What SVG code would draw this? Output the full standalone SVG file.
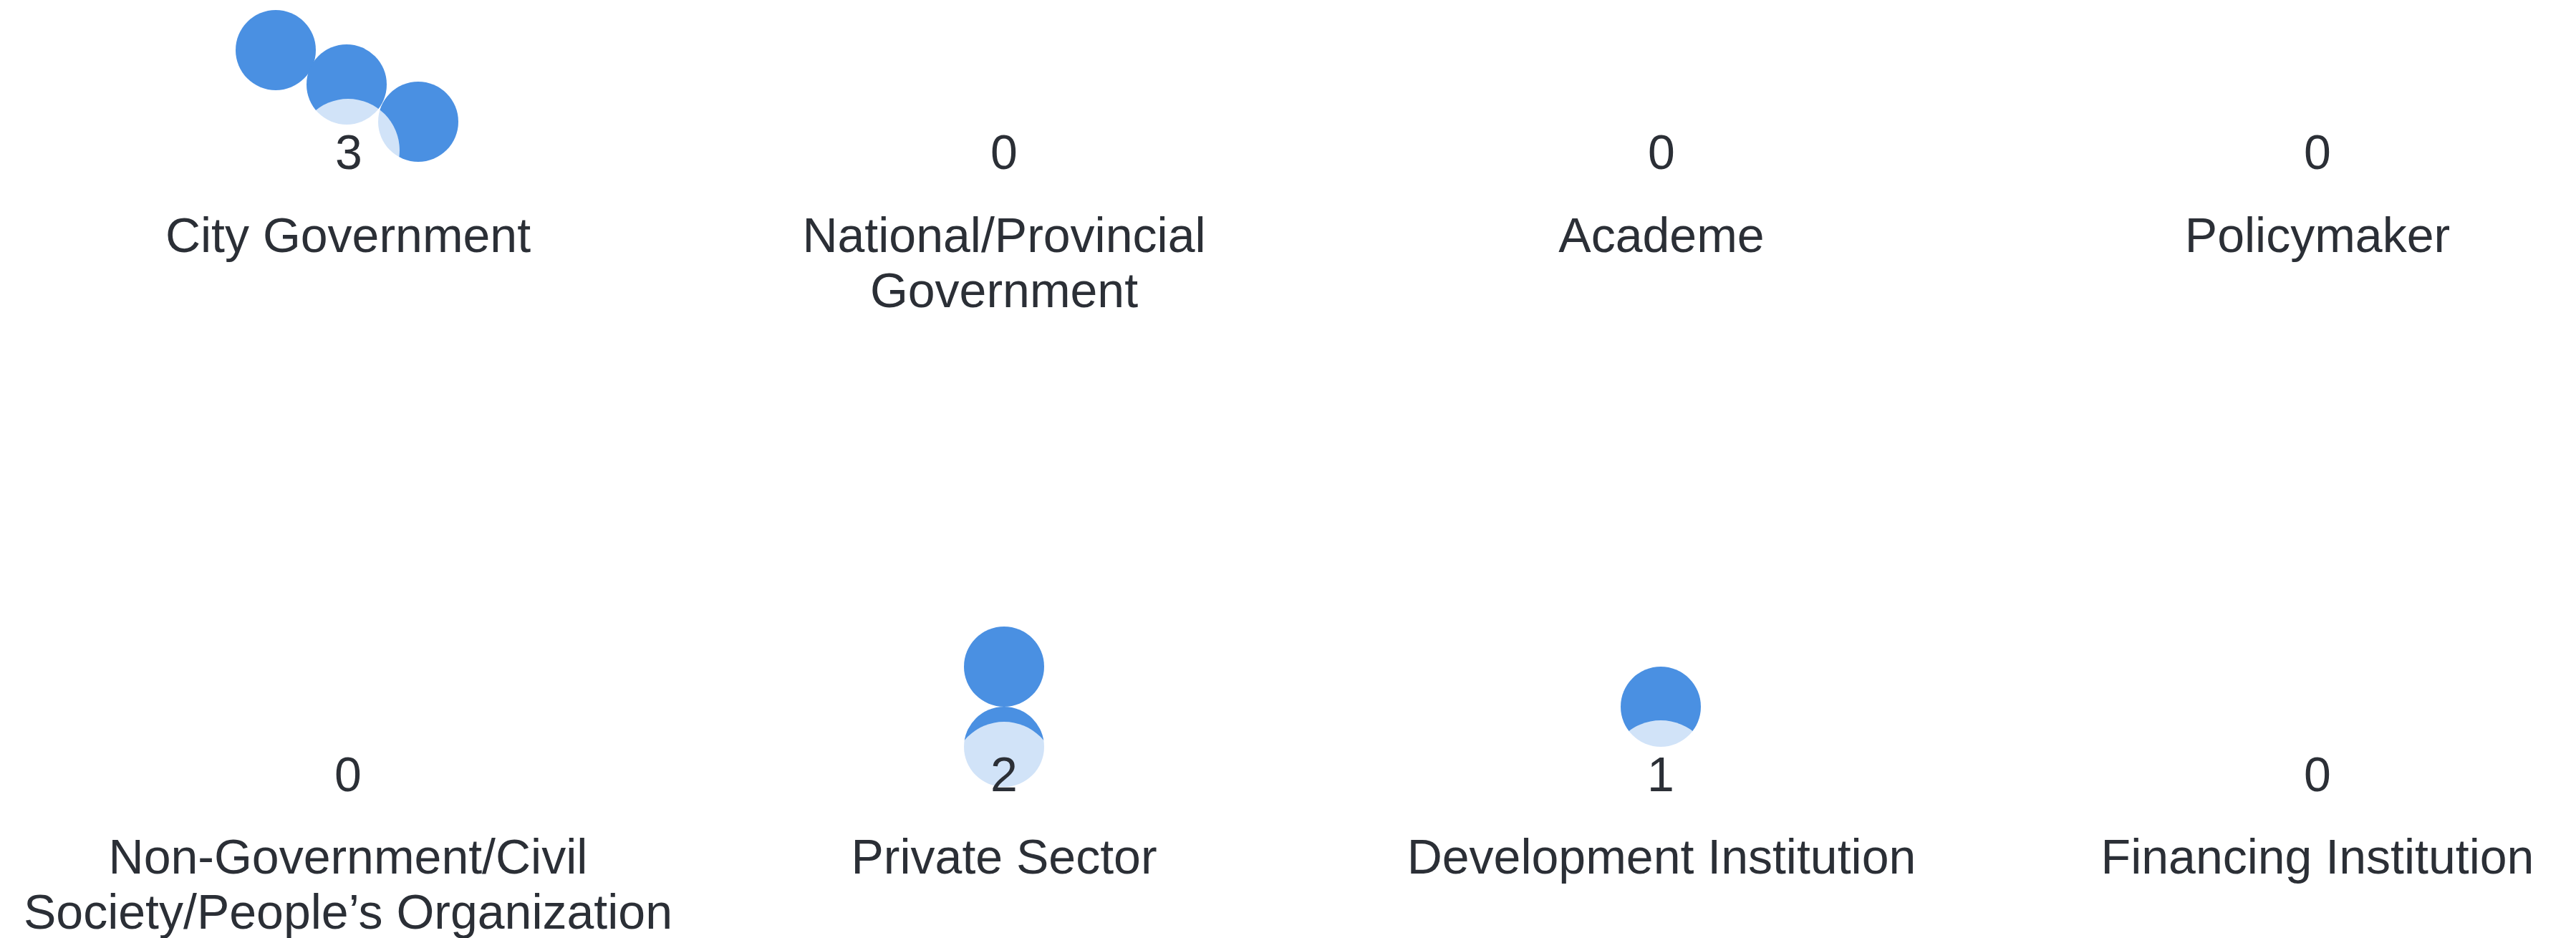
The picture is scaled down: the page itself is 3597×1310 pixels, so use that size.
<svg xmlns="http://www.w3.org/2000/svg" width="3597" height="1310" viewBox="0 0 3597 1310">
<style>
.bg{fill:#ffffff}
.dot{fill:#4a90e2}
.halo{fill:#ffffff;fill-opacity:0.75}
.num{font-family:"Liberation Sans",Arial,sans-serif;font-size:68px;fill:#2b2f36;text-anchor:middle}
.lbl{font-family:"Liberation Sans",Arial,sans-serif;font-size:68px;fill:#2b2f36;text-anchor:middle}
</style>
<rect class="bg" x="0" y="0" width="3597" height="1310"/>
<g id="connectors"></g>
<g id="node-city-government">
<circle class="dot" cx="385" cy="70" r="56"/>
<circle class="dot" cx="484" cy="118" r="56"/>
<circle class="dot" cx="584" cy="170" r="56"/>
<circle class="halo" cx="486" cy="210" r="72"/>
<text class="num" x="487" y="236">3</text>
<text class="lbl" x="486" y="352">City Government</text>
</g>
<g id="node-national-provincial-government">
<text class="num" x="1402" y="236">0</text>
<text class="lbl" x="1402" y="352">National/Provincial</text>
<text class="lbl" x="1402" y="429">Government</text>
</g>
<g id="node-academe">
<text class="num" x="2320" y="236">0</text>
<text class="lbl" x="2320" y="352">Academe</text>
</g>
<g id="node-policymaker">
<text class="num" x="3236" y="236">0</text>
<text class="lbl" x="3236" y="352">Policymaker</text>
</g>
<g id="node-ngo">
<text class="num" x="486" y="1105">0</text>
<text class="lbl" x="486" y="1220">Non-Government/Civil</text>
<text class="lbl" x="486" y="1297">Society/People’s Organization</text>
</g>
<g id="node-private-sector">
<circle class="dot" cx="1402" cy="931" r="56"/>
<circle class="dot" cx="1402" cy="1043" r="56"/>
<circle class="halo" cx="1402" cy="1080" r="72"/>
<text class="num" x="1402" y="1105">2</text>
<text class="lbl" x="1402" y="1220">Private Sector</text>
</g>
<g id="node-development-institution">
<circle class="dot" cx="2319" cy="987" r="56"/>
<circle class="halo" cx="2319" cy="1080" r="74"/>
<text class="num" x="2319" y="1105">1</text>
<text class="lbl" x="2320" y="1220">Development Institution</text>
</g>
<g id="node-financing-institution">
<text class="num" x="3236" y="1105">0</text>
<text class="lbl" x="3236" y="1220">Financing Institution</text>
</g>
</svg>
